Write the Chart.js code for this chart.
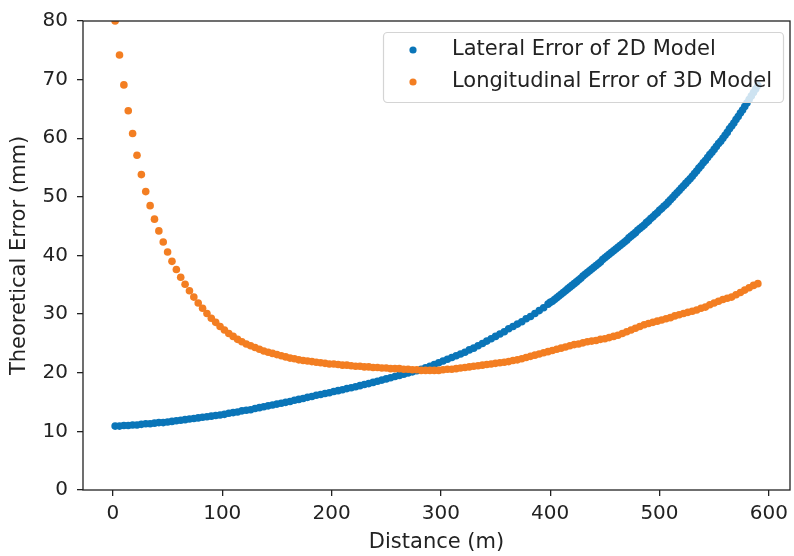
<!DOCTYPE html>
<html>
<head>
<meta charset="utf-8">
<script src="https://cdn.jsdelivr.net/npm/chart.js@4"></script>
<style>
  body { margin: 0; background: #fff; }
</style>
</head>
<body>
<canvas id="errorChart" width="794" height="556"></canvas>
<script>
// Distance (m) for the 3D model points
const distance = [
    2, 6, 10, 14, 18, 22, 26, 30, 34, 38,
    42, 46, 50, 54, 58, 62, 66, 70, 74, 78,
    82, 86, 90, 94, 98, 102, 106, 110, 114, 118,
    122, 126, 130, 134, 138, 142, 146, 150, 154, 158,
    162, 166, 170, 174, 178, 182, 186, 190, 194, 198,
    202, 206, 210, 214, 218, 222, 226, 230, 234, 238,
    242, 246, 250, 254, 258, 262, 266, 270, 274, 278,
    282, 286, 290, 294, 298, 302, 306, 310, 314, 318,
    322, 326, 330, 334, 338, 342, 346, 350, 354, 358,
    362, 366, 370, 374, 378, 382, 386, 390, 394, 398,
    402, 406, 410, 414, 418, 422, 426, 430, 434, 438,
    442, 446, 450, 454, 458, 462, 466, 470, 474, 478,
    482, 486, 490, 494, 498, 502, 506, 510, 514, 518,
    522, 526, 530, 534, 538, 542, 546, 550, 554, 558,
    562, 566, 570, 574, 578, 582, 586, 590
];

// Longitudinal Error of 3D Model (mm)
const longitudinalError3D = [
    80.0, 74.2, 69.1, 64.7, 60.8, 57.1, 53.8, 50.9, 48.5, 46.2,
    44.2, 42.3, 40.6, 39.0, 37.6, 36.3, 35.1, 34.0, 32.9, 31.9,
    31.0, 30.1, 29.3, 28.6, 27.9, 27.3, 26.7, 26.2, 25.7, 25.3,
    24.9, 24.6, 24.3, 24.0, 23.7, 23.5, 23.3, 23.1, 22.9, 22.7,
    22.5, 22.4, 22.2, 22.1, 22.0, 21.9, 21.8, 21.7, 21.6, 21.5,
    21.5, 21.4, 21.3, 21.3, 21.2, 21.1, 21.1, 21.0, 21.0, 20.9,
    20.9, 20.8, 20.8, 20.7, 20.7, 20.7, 20.6, 20.6, 20.5, 20.5,
    20.4, 20.4, 20.4, 20.4, 20.4, 20.5, 20.6, 20.6, 20.7, 20.8,
    20.9, 21.0, 21.1, 21.2, 21.3, 21.4, 21.5, 21.6, 21.7, 21.8,
    21.9, 22.1, 22.2, 22.4, 22.6, 22.8, 23.0, 23.2, 23.4, 23.6,
    23.8, 24.0, 24.2, 24.4, 24.6, 24.8, 24.9, 25.1, 25.3, 25.4,
    25.5, 25.7, 25.8, 26.0, 26.2, 26.4, 26.7, 27.0, 27.3, 27.6,
    27.9, 28.2, 28.4, 28.6, 28.8, 29.0, 29.2, 29.4, 29.7, 29.9,
    30.1, 30.3, 30.5, 30.7, 31.0, 31.2, 31.6, 31.9, 32.2, 32.5,
    32.7, 32.9, 33.3, 33.7, 34.1, 34.5, 34.9, 35.2
];

// Distance (m) for the 2D model points (denser where the curve gets steep)
const lateralDistance = [
    2, 6, 10, 14, 18, 22, 26, 30, 34, 38,
    42, 46, 50, 54, 58, 62, 66, 70, 74, 78,
    82, 86, 90, 94, 98, 102, 106, 110, 114, 118,
    122, 126, 130, 134, 138, 142, 146, 150, 154, 158,
    162, 166, 170, 174, 178, 182, 186, 190, 194, 198,
    202, 206, 210, 214, 218, 222, 226, 230, 234, 238,
    242, 246, 250, 254, 258, 262, 266, 270, 274, 278,
    282, 286, 290, 294, 298, 302, 306, 310, 314, 318,
    322, 326, 330, 334, 338, 342, 346, 350, 354, 358,
    362, 366, 370, 374, 378, 382, 386, 390, 394, 398,
    400, 402, 404, 406, 408, 410, 412, 414, 416, 418,
    420, 422, 424, 426, 428, 430, 432, 434, 436, 438,
    440, 442, 444, 446, 448, 450, 452, 454, 456, 458,
    460, 462, 464, 466, 468, 470, 472, 474, 476, 478,
    480, 482, 484, 486, 488, 490, 492, 494, 496, 498,
    500, 502, 504, 506, 508, 510, 512, 514, 516, 518,
    520, 522, 524, 526, 528, 530, 532, 534, 536, 538,
    540, 542, 544, 546, 548, 550, 552, 554, 556, 558,
    560, 562, 564, 566, 568, 570, 572, 574, 576, 578,
    580, 582, 584, 586, 588, 590
];

// Lateral Error of 2D Model (mm)
const lateralError2D = [
    10.9, 10.9, 11.0, 11.0, 11.1, 11.1, 11.2, 11.3, 11.3, 11.4,
    11.5, 11.5, 11.6, 11.7, 11.8, 11.9, 12.0, 12.1, 12.2, 12.3,
    12.4, 12.5, 12.6, 12.7, 12.8, 12.9, 13.1, 13.2, 13.3, 13.5,
    13.6, 13.7, 13.9, 14.05, 14.2, 14.35, 14.5, 14.65, 14.8, 14.95,
    15.1, 15.3, 15.45, 15.6, 15.8, 15.95, 16.15, 16.3, 16.45, 16.6,
    16.8, 16.95, 17.1, 17.3, 17.45, 17.6, 17.8, 18.0, 18.15, 18.35,
    18.55, 18.75, 18.95, 19.15, 19.35, 19.55, 19.75, 19.95, 20.15, 20.35,
    20.6, 20.85, 21.1, 21.4, 21.7, 22.0, 22.3, 22.6, 22.9, 23.2,
    23.5, 23.9, 24.2, 24.6, 25.0, 25.4, 25.8, 26.2, 26.6, 27.0,
    27.5, 27.9, 28.3, 28.7, 29.2, 29.6, 30.1, 30.6, 31.1, 31.7,
    32.0, 32.2, 32.5, 32.8, 33.1, 33.4, 33.7, 34.0, 34.3, 34.6,
    34.9, 35.2, 35.5, 35.8, 36.1, 36.5, 36.8, 37.1, 37.4, 37.7,
    38.0, 38.3, 38.6, 38.9, 39.3, 39.6, 39.9, 40.2, 40.5, 40.8,
    41.1, 41.4, 41.7, 42.0, 42.3, 42.6, 43.0, 43.3, 43.6, 43.9,
    44.3, 44.6, 44.9, 45.2, 45.6, 45.9, 46.3, 46.6, 47.0, 47.3,
    47.7, 48.0, 48.4, 48.7, 49.1, 49.5, 49.9, 50.3, 50.7, 51.1,
    51.5, 51.9, 52.3, 52.7, 53.1, 53.5, 54.0, 54.4, 54.9, 55.3,
    55.8, 56.2, 56.7, 57.2, 57.6, 58.1, 58.6, 59.1, 59.5, 60.0,
    60.5, 61.0, 61.6, 62.1, 62.6, 63.2, 63.7, 64.3, 64.8, 65.4,
    66.0, 66.6, 67.2, 67.8, 68.4, 69.0
];

const xTicks = [0, 100, 200, 300, 400, 500, 600];
const yTicks = [0, 10, 20, 30, 40, 50, 60, 70, 80];

const axisColor = '#222';
Chart.defaults.font.family = '"DejaVu Sans", sans-serif';
Chart.defaults.color = axisColor;

// box round the plot area, like matplotlib spines
const frame = {
    id: 'frame',
    afterDatasetsDraw(chart) {
        const { ctx, chartArea: a } = chart;
        ctx.save();
        ctx.strokeStyle = axisColor;
        ctx.lineWidth = 1.3;
        ctx.strokeRect(a.left, a.top, a.right - a.left, a.bottom - a.top);
        ctx.restore();
    }
};

// legend in the upper right, with a light box
const legendBox = {
    id: 'legendBox',
    afterDraw(chart) {
        const { ctx, chartArea: a } = chart;
        const w = 400, h = 70;
        const x0 = a.right - 7 - w, y0 = a.top + 11;
        ctx.save();
        ctx.beginPath();
        ctx.roundRect(x0 + 0.5, y0 + 0.5, w, h, 4);
        ctx.fillStyle = 'rgba(255,255,255,0.8)';
        ctx.fill();
        ctx.strokeStyle = '#d4d4d4';
        ctx.lineWidth = 1.2;
        ctx.stroke();
        ctx.font = '21px "DejaVu Sans"';
        ctx.textBaseline = 'middle';
        chart.data.datasets.forEach((ds, i) => {
            const y = y0 + 18 + i * 32;
            ctx.beginPath();
            ctx.arc(x0 + 30, y, 3.6, 0, Math.PI * 2);
            ctx.fillStyle = ds.backgroundColor;
            ctx.fill();
            ctx.fillStyle = axisColor;
            ctx.fillText(ds.label, x0 + 69, y);
        });
        ctx.restore();
    }
};

new Chart(document.getElementById('errorChart'), {
    type: 'scatter',
    data: {
        datasets: [{
            label: 'Lateral Error of 2D Model',
            data: lateralDistance.map((d, i) => ({ x: d, y: lateralError2D[i] })),
            backgroundColor: '#0a75b8',
            borderWidth: 0,
            pointRadius: 3.8,
            clip: 0,
            order: 1
        }, {
            label: 'Longitudinal Error of 3D Model',
            data: distance.map((d, i) => ({ x: d, y: longitudinalError3D[i] })),
            backgroundColor: '#f37e22',
            borderWidth: 0,
            pointRadius: 3.8,
            clip: 0,
            order: 0
        }]
    },
    options: {
        responsive: false,
        animation: false,
        devicePixelRatio: 1,
        layout: { padding: { top: 19, right: 1, left: 0, bottom: 0 } },
        plugins: { legend: { display: false }, tooltip: { enabled: false } },
        scales: {
            x: {
                type: 'linear',
                min: -27.4,
                max: 619.4,
                afterBuildTicks: s => { s.ticks = xTicks.map(v => ({ value: v })); },
                afterFit: s => { s.height = 66; },
                grid: { drawOnChartArea: false, drawTicks: true, tickLength: 6, color: axisColor, lineWidth: 1.3 },
                border: { display: false },
                ticks: { font: { size: 20 }, padding: 6, maxRotation: 0 },
                title: { display: true, text: 'Distance (m)', font: { size: 21 }, padding: { top: 0, bottom: 1 } }
            },
            y: {
                type: 'linear',
                min: 0,
                max: 80,
                afterBuildTicks: s => { s.ticks = yTicks.map(v => ({ value: v })); },
                afterFit: s => { s.width = 83; },
                grid: { drawOnChartArea: false, drawTicks: true, tickLength: 6, color: axisColor, lineWidth: 1.3 },
                border: { display: false },
                ticks: { font: { size: 20 }, padding: 9 },
                title: { display: true, text: 'Theoretical Error (mm)', font: { size: 21 }, padding: { top: 7, bottom: 0 } }
            }
        }
    },
    plugins: [frame, legendBox]
});
</script>
</body>
</html>
